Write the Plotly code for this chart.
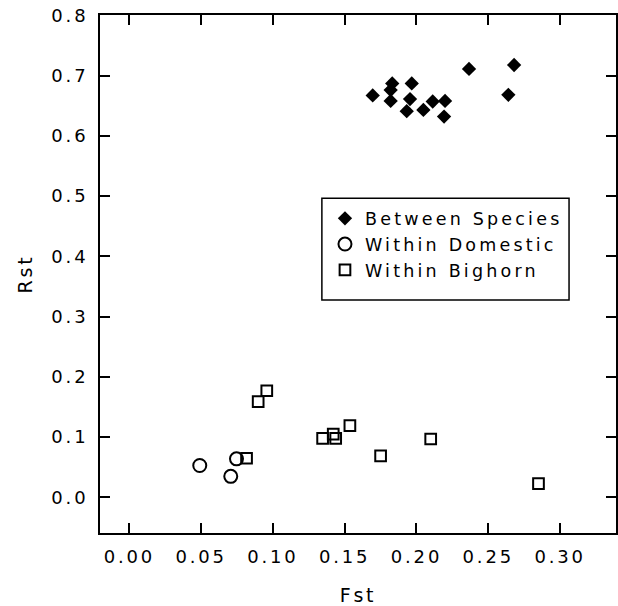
import plotly.graph_objects as go

# Between species (filled diamonds)
between_fst = [0.1695, 0.1831, 0.182, 0.182, 0.1967, 0.1955, 0.1932, 0.2048, 0.2113, 0.2199, 0.2192, 0.2366, 0.268, 0.264]
between_rst = [0.667, 0.687, 0.676, 0.658, 0.687, 0.661, 0.641, 0.643, 0.657, 0.658, 0.632, 0.711, 0.7175, 0.668]

# Within domestic (open circles)
domestic_fst = [0.049, 0.0746, 0.0706]
domestic_rst = [0.053, 0.064, 0.035]

# Within bighorn (open squares)
bighorn_fst = [0.0957, 0.0897, 0.0816, 0.1346, 0.142, 0.1437, 0.1536, 0.175, 0.2099, 0.285]
bighorn_rst = [0.177, 0.159, 0.065, 0.098, 0.105, 0.098, 0.119, 0.069, 0.097, 0.023]

x_ticks = [0.00, 0.05, 0.10, 0.15, 0.20, 0.25, 0.30]
y_ticks = [0.0, 0.1, 0.2, 0.3, 0.4, 0.5, 0.6, 0.7, 0.8]

FONT = "DejaVu Sans"

fig = go.Figure()
fig.add_trace(go.Scatter(
    x=between_fst, y=between_rst, mode="markers", name="Between Species",
    marker=dict(symbol="diamond", size=11, color="black", line=dict(width=0)),
))
fig.add_trace(go.Scatter(
    x=domestic_fst, y=domestic_rst, mode="markers", name="Within Domestic",
    marker=dict(symbol="circle-open", size=13, color="black", line=dict(width=2)),
))
fig.add_trace(go.Scatter(
    x=bighorn_fst, y=bighorn_rst, mode="markers", name="Within Bighorn",
    marker=dict(symbol="square-open", size=10.7, color="black", line=dict(width=2)),
))

axis_common = dict(
    showline=True, linewidth=2, linecolor="black", mirror="ticks",
    ticks="inside", ticklen=10, tickwidth=2, tickcolor="black",
    showgrid=False, zeroline=False, automargin=False,
    tickfont=dict(family=FONT, size=18, color="black"),
)

fig.update_xaxes(
    range=[-0.0205, 0.339], tickvals=x_ticks, ticktext=[f"{v:.2f}" for v in x_ticks],
    ticklabelstandoff=6,
    title=dict(text="Fst", font=dict(family=FONT, size=19, color="black"), standoff=24),
    **axis_common,
)
fig.update_yaxes(
    range=[-0.059, 0.8005], tickvals=y_ticks, ticktext=[f"{v:.1f}" for v in y_ticks],
    ticklabelstandoff=6,
    title=dict(text="Rst", font=dict(family=FONT, size=19, color="black"), standoff=22),
    **axis_common,
)

fig.add_shape(type="rect", xref="paper", yref="paper", x0=0.43, x1=0.909, y0=0.45, y1=0.646,
              line=dict(color="black", width=1.5), fillcolor="rgba(0,0,0,0)", layer="above")

fig.update_layout(
    width=618, height=606,
    margin=dict(l=100, r=2, t=15, b=73, autoexpand=False),
    paper_bgcolor="white", plot_bgcolor="white",
    font=dict(family=FONT, color="black"),
    showlegend=True,
    legend=dict(
        x=0.436, y=0.642, xanchor="left", yanchor="top",
        bgcolor="rgba(0,0,0,0)", borderwidth=0,
        font=dict(family=FONT, size=17.5, color="black"),
        itemwidth=30,
    ),
)

post = """
document.body.style.margin = '0';
document.body.style.padding = '0';
var gd = document.getElementById('{plot_id}');
gd.querySelectorAll('text').forEach(function(t){ t.style.letterSpacing = '2.8px'; });
gd.querySelectorAll('.legend text').forEach(function(t){ t.style.letterSpacing = '3.2px'; });
gd.querySelectorAll('.legend [clip-path]').forEach(function(e){ e.removeAttribute('clip-path'); });
"""

fig.write_html("out.html", post_script=post, config={"displayModeBar": False})
